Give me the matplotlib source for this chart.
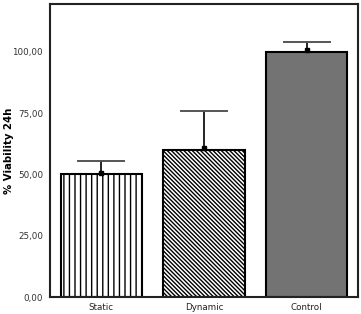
import matplotlib
matplotlib.use("Agg")
import matplotlib.pyplot as plt

categories = ["Static", "Dynamic", "Control"]
values = [50.0, 60.0, 100.0]
errors = [5.5, 16.0, 4.0]
yticks = [0, 25, 50, 75, 100]
ytick_labels = ["0,00", "25,00", "50,00", "75,00", "100,00"]

plt.rcParams['hatch.linewidth'] = 1.0
fig = plt.figure(figsize=(3.61, 3.14), dpi=100)
ax = fig.add_axes([50/361, 1 - 297/314, 308/361, 293/314])

x = list(range(len(categories)))
hatches = ['|||', '\\' * 8, None]
faces = ['white', 'white', '#737373']
for xi, v, h, fc in zip(x, values, hatches, faces):
    ax.bar(xi, v, width=0.79, color=fc, edgecolor='black', linewidth=1.5,
           hatch=h, zorder=2)

for xi, v, e in zip(x, values, errors):
    ax.plot([xi, xi], [v, v + e], color='black', lw=1.2, zorder=3)
    ax.plot([xi - 0.225, xi + 0.225], [v + e, v + e], color='#555555', lw=1.4, zorder=3)
    ax.plot([xi], [v + 0.6], marker='s', ms=3.5, color='black', zorder=4)

ax.set_xlim(-0.5, 2.5)
ax.set_ylim(0, 119.5)
ax.set_yticks(yticks)
ax.set_yticklabels(ytick_labels, fontsize=6.3, color='#333333')
ax.set_xticks(x)
ax.set_xticklabels(categories, fontsize=6.3, color='#222222')
ax.tick_params(axis='y', length=0, pad=5)
ax.tick_params(axis='x', length=0, pad=4)
for s in ax.spines.values():
    s.set_linewidth(1.5)
    s.set_color('#222222')
ax.set_ylabel("% Viability 24h", fontsize=7.3, fontweight='bold')
ax.yaxis.set_label_coords(-36/308, 0.5)

fig.savefig("out.png", dpi=100)
